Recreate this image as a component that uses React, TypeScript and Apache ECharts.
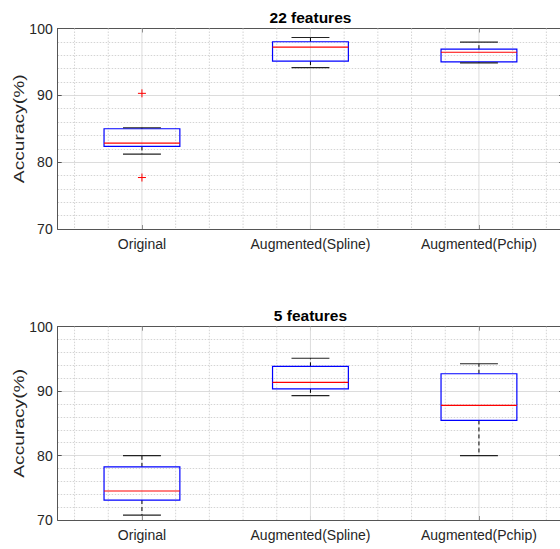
import React, { useEffect, useRef } from "react";
import * as echarts from "echarts";

// ---- data ----
const categories = ["Original", "Augmented(Spline)", "Augmented(Pchip)"];
const titles = ["22 features", "5 features"];

// 22 features
const lowWhisker22 = [81.2, 94.15, 94.85];
const q1_22 = [82.35, 95.12, 95.0];
const median22 = [82.85, 97.2, 96.45];
const q3_22 = [85.0, 98.02, 96.9];
const highWhisker22 = [85.15, 98.65, 97.95];
const outliers22 = [
  [1, 90.3],
  [1, 77.7],
];

// 5 features
const lowWhisker5 = [70.75, 89.3, 80.0];
const q1_5 = [73.1, 90.35, 85.45];
const median5 = [74.5, 91.35, 87.8];
const q3_5 = [78.25, 93.85, 92.7];
const highWhisker5 = [80.0, 95.1, 94.25];
const outliers5: number[][] = [];

const yTicks = [70, 80, 90, 100];
const xPositions = [1, 2, 3];
const xMinorGrid = [0.6, 0.8, 1.2, 1.4, 1.6, 1.8, 2.2, 2.4, 2.6, 2.8, 3.2, 3.4];

const FONT = "'Liberation Sans', Arial, Helvetica, sans-serif";
const AXIS_COLOR = "#555555";

function boxRows(lo: number[], q1: number[], med: number[], q3: number[], hi: number[]) {
  return categories.map((_, i) => [xPositions[i], lo[i], q1[i], med[i], q3[i], hi[i]]);
}

const HALF = 0.225;

function renderBox(params: any, api: any) {
  const x = api.value(0);
  const lo = api.value(1);
  const q1 = api.value(2);
  const med = api.value(3);
  const q3 = api.value(4);
  const hi = api.value(5);
  const c = (xx: number, yy: number) => api.coord([xx, yy]);
  const pHiC = c(x, hi);
  const pQ3C = c(x, q3);
  const pQ1C = c(x, q1);
  const pLoC = c(x, lo);
  const boxTL = c(x - HALF, q3);
  const boxBR = c(x + HALF, q1);
  const medL = c(x - HALF, med);
  const medR = c(x + HALF, med);
  const capHiL = c(x - HALF / 2, hi);
  const capHiR = c(x + HALF / 2, hi);
  const capLoL = c(x - HALF / 2, lo);
  const capLoR = c(x + HALF / 2, lo);
  const dash = { stroke: "#000", lineWidth: 1, lineDash: [4, 3] };
  return {
    type: "group",
    children: [
      { type: "line", shape: { x1: pQ3C[0], y1: pQ3C[1], x2: pHiC[0], y2: pHiC[1] }, style: dash },
      { type: "line", shape: { x1: pQ1C[0], y1: pQ1C[1], x2: pLoC[0], y2: pLoC[1] }, style: dash },
      {
        type: "rect",
        shape: { x: boxTL[0], y: boxTL[1], width: boxBR[0] - boxTL[0], height: boxBR[1] - boxTL[1] },
        style: { fill: "none", stroke: "#0000ff", lineWidth: 1.2 },
      },
      {
        type: "line",
        shape: { x1: medL[0], y1: medL[1], x2: medR[0], y2: medR[1] },
        style: { stroke: "#ff0000", lineWidth: 1.2 },
      },
      {
        type: "line",
        shape: { x1: capHiL[0], y1: capHiL[1], x2: capHiR[0], y2: capHiR[1] },
        style: { stroke: "#222", lineWidth: 1.2 },
      },
      {
        type: "line",
        shape: { x1: capLoL[0], y1: capLoL[1], x2: capLoR[0], y2: capLoR[1] },
        style: { stroke: "#222", lineWidth: 1.2 },
      },
    ],
  };
}

function renderOutlier(params: any, api: any) {
  const p = api.coord([api.value(0), api.value(1)]);
  const s = 4;
  const st = { stroke: "#ff0000", lineWidth: 1 };
  return {
    type: "group",
    children: [
      { type: "line", shape: { x1: p[0] - s, y1: p[1], x2: p[0] + s, y2: p[1] }, style: st },
      { type: "line", shape: { x1: p[0], y1: p[1] - s, x2: p[0], y2: p[1] + s }, style: st },
    ],
  };
}

function renderVGrid(params: any, api: any) {
  const x = api.value(0);
  const major = api.value(1) === 1;
  const top = api.coord([x, 100]);
  const bot = api.coord([x, 70]);
  return {
    type: "line",
    silent: true,
    shape: { x1: top[0], y1: top[1], x2: bot[0], y2: bot[1] },
    style: major
      ? { stroke: "#dcdcdc", lineWidth: 1 }
      : { stroke: "#d4d4d4", lineWidth: 1, lineDash: [1.5, 1.5] },
  };
}

export default function App() {
  const ref = useRef<HTMLDivElement>(null);
  useEffect(() => {
    if (!ref.current) return;
    const chart = echarts.init(ref.current, null, { renderer: "svg" });

    const grids = [
      { left: 57.7, top: 28.5, width: 505.5, height: 200.5, outerBoundsMode: "none", containLabel: false },
      { left: 57.7, top: 326.7, width: 505.5, height: 193.3, outerBoundsMode: "none", containLabel: false },
    ];

    const xAxes: any[] = [];
    const yAxes: any[] = [];
    const series: any[] = [];
    const graphics: any[] = [];

    const boxSets = [
      boxRows(lowWhisker22, q1_22, median22, q3_22, highWhisker22),
      boxRows(lowWhisker5, q1_5, median5, q3_5, highWhisker5),
    ];
    const outlierSets = [outliers22, outliers5];
    const vgridData = [
      ...xMinorGrid.map((v) => [v, 0]),
      ...xPositions.map((v) => [v, 1]),
    ];

    grids.forEach((g, gi) => {
      // bottom x axis with labels
      xAxes.push({
        type: "value",
        gridIndex: gi,
        position: "bottom",
        min: 0.5,
        max: 3.5,
        axisLine: { show: true, lineStyle: { color: AXIS_COLOR, width: 1 } },
        axisTick: { show: true, inside: true, length: 4, customValues: xPositions, lineStyle: { color: AXIS_COLOR } },
        axisLabel: {
          show: true,
          customValues: xPositions,
          formatter: (v: number) => categories[Math.round(v) - 1] ?? "",
          fontFamily: FONT,
          fontSize: 14,
          color: "#262626",
          margin: 8,
        },
        splitLine: { show: false },
      });
      // top x axis (frame)
      xAxes.push({
        type: "value",
        gridIndex: gi,
        position: "top",
        min: 0.5,
        max: 3.5,
        axisLine: { show: true, lineStyle: { color: AXIS_COLOR, width: 1 } },
        axisTick: { show: true, inside: true, length: 4, customValues: xPositions, lineStyle: { color: AXIS_COLOR } },
        axisLabel: { show: false },
        splitLine: { show: false },
      });
      // left y axis
      yAxes.push({
        type: "value",
        gridIndex: gi,
        position: "left",
        min: yTicks[0],
        max: yTicks[yTicks.length - 1],
        interval: 10,
        axisLine: { show: true, lineStyle: { color: AXIS_COLOR, width: 1 } },
        axisTick: { show: true, inside: true, length: 4, lineStyle: { color: AXIS_COLOR } },
        axisLabel: { show: true, fontFamily: FONT, fontSize: 14, color: "#262626", margin: 5 },
        splitLine: { show: true, lineStyle: { color: "#dcdcdc", width: 1, type: "solid" } },
        minorTick: { show: false, splitNumber: 5 },
        minorSplitLine: { show: true, lineStyle: { color: "#d4d4d4", width: 1, type: [1.5, 1.5] } },
      });
      // right y axis (frame)
      yAxes.push({
        type: "value",
        gridIndex: gi,
        position: "right",
        min: yTicks[0],
        max: yTicks[yTicks.length - 1],
        interval: 10,
        axisLine: { show: true, lineStyle: { color: AXIS_COLOR, width: 1 } },
        axisTick: { show: true, inside: true, length: 4, lineStyle: { color: AXIS_COLOR } },
        axisLabel: { show: false },
        splitLine: { show: false },
      });

      const xi = gi * 2;
      const yi = gi * 2;
      series.push({
        type: "custom",
        xAxisIndex: xi,
        yAxisIndex: yi,
        silent: true,
        z: 1,
        renderItem: renderVGrid,
        data: vgridData,
      });
      series.push({
        type: "custom",
        xAxisIndex: xi,
        yAxisIndex: yi,
        z: 3,
        renderItem: renderBox,
        data: boxSets[gi],
        encode: { x: 0, y: [1, 2, 3, 4, 5] },
      });
      series.push({
        type: "custom",
        xAxisIndex: xi,
        yAxisIndex: yi,
        z: 4,
        renderItem: renderOutlier,
        data: outlierSets[gi],
        encode: { x: 0, y: 1 },
      });

      const cx = g.left + g.width / 2;
      graphics.push({
        type: "text",
        x: cx,
        y: g.top - 11.5,
        style: {
          text: titles[gi],
          font: `bold 15.5px ${FONT}`,
          fill: "#000",
          textAlign: "center",
          textVerticalAlign: "middle",
        },
      });
      graphics.push({
        type: "text",
        x: 19,
        y: g.top + g.height / 2,
        rotation: Math.PI / 2,
        scaleX: 1.28,
        style: {
          text: "Accuracy(%)",
          font: `15px ${FONT}`,
          fill: "#262626",
          textAlign: "center",
          textVerticalAlign: "middle",
        },
      });
    });

    chart.setOption({
      animation: false,
      backgroundColor: "#ffffff",
      grid: grids,
      xAxis: xAxes,
      yAxis: yAxes,
      series,
      graphic: { elements: graphics },
    });
    return () => chart.dispose();
  }, []);

  return (
    <div
      ref={ref}
      style={{ position: "fixed", left: 0, top: 0, width: 560, height: 549, background: "#fff" }}
    />
  );
}
